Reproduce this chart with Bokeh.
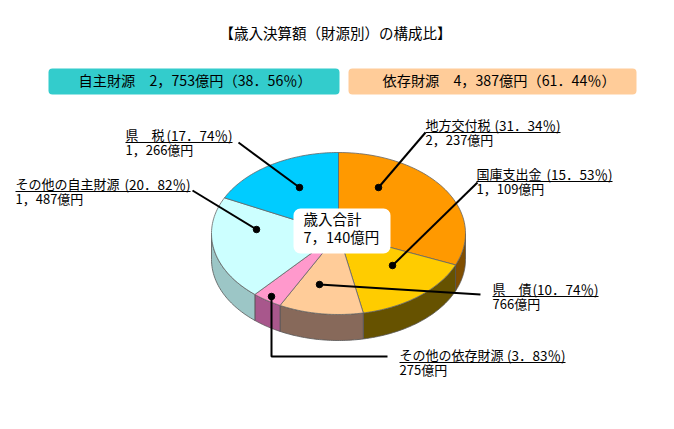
from math import sin, cos, radians
import numpy as np
from bokeh.plotting import figure
from bokeh.models import BoxAnnotation, Range1d
from bokeh.core.properties import value
from bokeh.embed import file_html
from bokeh.resources import INLINE

# --- data ---
title = "【歳入決算額（財源別）の構成比】"
sources = ["地方交付税", "国庫支出金", "県　債", "その他の依存財源", "その他の自主財源", "県　税"]
percent = [31.34, 15.53, 10.74, 3.83, 20.82, 17.74]
percent_text = ["31．34", "15．53", "10．74", "3．83", "20．82", "17．74"]
amount_text = ["2，237", "1，109", "766", "275", "1，487", "1，266"]
top_colors = ["#ff9900", "#ffcc00", "#ffcc99", "#ff99cc", "#ccffff", "#00ccff"]
wall_colors = ["#804e00", "#665200", "#87695a", "#a8578c", "#9cc6c6", "#007fa0"]
group_text = ["自主財源　2，753億円（38．56％）", "依存財源　4，387億円（61．44％）"]
group_colors = ["#33cccc", "#ffcc99"]
total_text = ["歳入合計", "7，140億円"]

# --- layout (page pixels) ---
W, H = 658, 413
CX, CY, RX, RY, DEPTH = 338, 233, 127, 81, 26
FONT = value("Noto Sans CJK JP")
TEXT_DY = -2

p = figure(width=W, height=H, output_backend="svg", toolbar_location=None,
           x_range=Range1d(0, W), y_range=Range1d(H, 0),
           min_border=0, outline_line_color=None, background_fill_color="white")
p.axis.visible = False
p.grid.visible = False

def pt(deg, dy=0.0):
    a = radians(deg)
    return CX + RX * sin(a), CY - RY * cos(a) + dy

edges = np.concatenate([[0], np.cumsum(percent)]) * 3.6
edges[-1] = 360

# side walls of the front half
for i in range(len(percent)):
    a0, a1 = max(edges[i], 90), min(edges[i + 1], 270)
    if a1 <= a0:
        continue
    angs = np.linspace(a0, a1, 40)
    xs = [pt(a)[0] for a in angs] + [pt(a, DEPTH)[0] for a in angs[::-1]]
    ys = [pt(a)[1] for a in angs] + [pt(a, DEPTH)[1] for a in angs[::-1]]
    p.patch(xs, ys, fill_color=wall_colors[i], line_color="#555555", line_width=0.8)

# top slices
for i in range(len(percent)):
    angs = np.linspace(edges[i], edges[i + 1], 60)
    xs = [CX] + [pt(a)[0] for a in angs]
    ys = [CY] + [pt(a)[1] for a in angs]
    p.patch(xs, ys, fill_color=top_colors[i], line_color="#666666", line_width=0.8)

# header boxes
for (l, r), c in zip([(48, 339), (348, 636)], group_colors):
    p.add_layout(BoxAnnotation(left=l, right=r, top=68, bottom=94, fill_color=c, fill_alpha=1,
                               line_color=None, border_radius=4, level="underlay"))
# centre box
p.add_layout(BoxAnnotation(left=293, right=390, top=208, bottom=253, fill_color="white", fill_alpha=1,
                           line_color=None, border_radius=7, level="annotation"))

def txt(x, y, s, align="left", size="14.5px"):
    p.text([x], [y + TEXT_DY], text=[s], text_font=FONT, text_font_size=size, text_color="#000000",
           text_align=align, text_baseline="middle", level="overlay")

txt(335, 34, title, "center")
txt(78, 81, group_text[0], size="14.2px")
txt(382, 81, group_text[1], size="14.2px")
txt(303, 220, total_text[0])
txt(303, 238, total_text[1])

# labels: left x, name line centre y, underline right x
label_pos = [(425, 126, 560), (476, 175, 612), (492, 290, 598),
             (399, 356, 565), (15, 185, 190), (125, 136, 232)]
amount_dy = 15
for i, (x, y, xr) in enumerate(label_pos):
    txt(x, y, sources[i], size="13px")
    txt(xr, y, f"({percent_text[i]}％)", "right", size="13.5px")
    txt(x, y + amount_dy, f"{amount_text[i]}億円", size="13px")
    p.line([x, xr], [y + 6, y + 6], line_color="black", line_width=1, level="overlay")

# leaders
leaders = [([425, 378], [132, 187]), ([477, 392], [182, 265]), ([480, 319], [294, 284]),
           ([387, 271, 271], [356, 356, 296]), ([192, 256], [190, 229]), ([238, 299], [142, 187])]
for xs, ys in leaders:
    p.line(xs, ys, line_color="black", line_width=2, level="overlay")
    p.scatter([xs[-1]], [ys[-1]], size=6.5, color="black", level="overlay")

open("out.html", "w").write(file_html(p, INLINE))
